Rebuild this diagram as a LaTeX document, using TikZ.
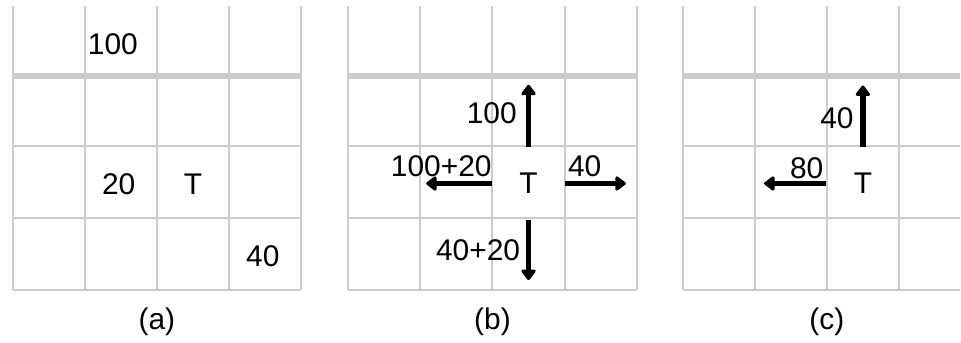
\documentclass[tikz,border=0pt]{standalone}
\usepackage{fontspec}
\setmainfont{Liberation Sans}
\usetikzlibrary{arrows.meta,positioning}

\tikzset{
  cellline/.style={draw=gray!40, line width=0.8pt},
  rowline/.style={draw=gray!40, line width=1.6pt},
  flow/.style={line width=2.1pt, -{Triangle[width=6.5pt,length=4.5pt,round]}},
  lbl/.style={font=\fontsize{11.8}{13}\selectfont, inner sep=1pt},
  tcell/.style={lbl, minimum width=1cm, minimum height=0.985cm, inner sep=0pt},
}

\begin{document}
\begin{tikzpicture}[x=1cm,y=0.985cm]
            \useasboundingbox (0,0) rectangle (13.33,4.83);
            % (a)
            \begin{scope}[shift={(0.176,0.746)}]
            \draw[cellline] (0,0) grid (4,4);
            \draw[rowline] (0,3) -- (4,3);
            \node[lbl] (aHundred) at (1.39,3.46) {100};
            \node[lbl] (aTwenty) at (1.47,1.49) {20};
            \node[lbl] (aT) at (2.50,1.49) {T};
            \node[lbl] (aForty) at (3.47,0.47) {40};
            \node[lbl] (aCap) at (2.0,-0.45) {(a)};
            \end{scope}
            % (b)
            \begin{scope}[shift={(4.831,0.746)}]
            \draw[cellline] (0,0) grid (4,4);
            \draw[rowline] (0,3) -- (4,3);
            \node[tcell] (bT) at (2.5,1.5) {T};
            \coordinate (bN) at (2.5,2.89);
            \coordinate (bW) at (1.08,1.5);
            \coordinate (bE) at (3.85,1.5);
            \coordinate (bS) at (2.5,0.14);
            \draw[flow] (bT.north) -- (bN);
            \draw[flow] (bT.west) -- (bW);
            \draw[flow] (bT.east) -- (bE);
            \draw[flow] (bT.south) -- (bS);
            \node[lbl] (bNorth) at (1.99,2.49) {100};
            \node[lbl] (bWest) at (1.29,1.74) {100+20};
            \node[lbl] (bEast) at (3.28,1.74) {40};
            \node[lbl] (bSouth) at (1.80,0.56) {40+20};
            \node[lbl] (bCap) at (2.0,-0.45) {(b)};
            \end{scope}
            % (c)
            \begin{scope}[shift={(9.469,0.746)}]
            \draw[cellline] (0,0) grid (3.85,4);
            \draw[rowline] (0,3) -- (3.85,3);
            \node[tcell] (cT) at (2.5,1.5) {T};
            \coordinate (cN) at (2.5,2.88);
            \coordinate (cW) at (1.13,1.5);
            \draw[flow] (cT.north) -- (cN);
            \draw[flow] (cT.west) -- (cW);
            \node[lbl] (cNorth) at (2.14,2.42) {40};
            \node[lbl] (cWest) at (1.72,1.72) {80};
            \node[lbl] (cCap) at (2.0,-0.45) {(c)};
            \end{scope}
        \end{tikzpicture}
\end{document}
